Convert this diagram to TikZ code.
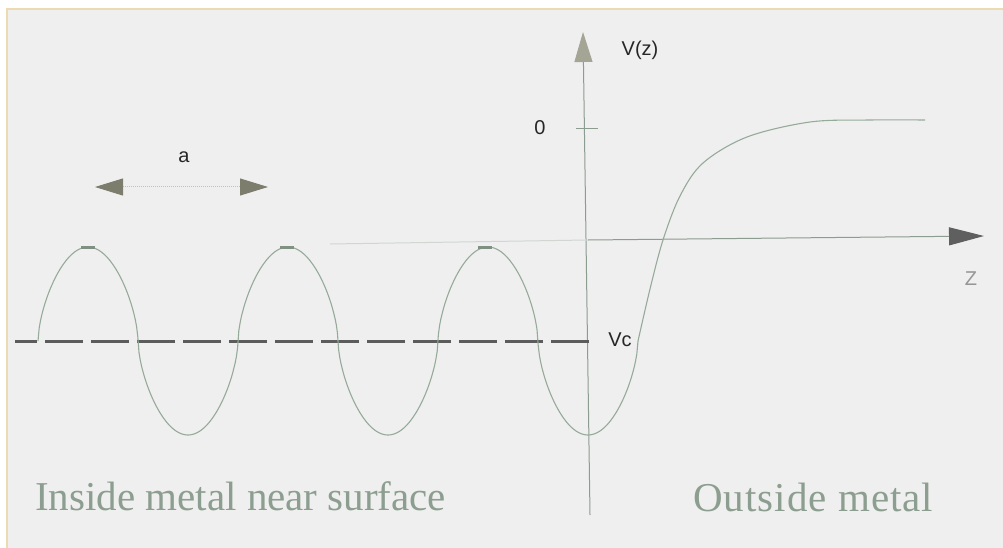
\documentclass[tikz,border=0pt]{standalone}
\usepackage{fontspec}
\setmainfont{Liberation Serif}
\setsansfont{Liberation Sans}
\newfontfamily\capwide[LetterSpace=2.5]{Liberation Serif}
\usetikzlibrary{arrows.meta,positioning}

\definecolor{bgGray}{RGB}{239,239,239}
\definecolor{frameTan}{RGB}{236,218,178}
\definecolor{curveCol}{RGB}{150,170,154}
\definecolor{axisCol}{RGB}{140,156,145}
\definecolor{dashCol}{RGB}{92,92,92}
\definecolor{textCol}{RGB}{140,158,143}
\definecolor{lblCol}{RGB}{38,38,38}
\definecolor{vHeadCol}{RGB}{165,165,150}
\definecolor{hHeadCol}{RGB}{95,95,95}
\definecolor{aHeadCol}{RGB}{125,125,110}

\begin{document}
\begin{tikzpicture}[x=1pt,y=-1pt,
    declare function={wv(\t)=341-94*cos(1.8*(\t-88))*(abs(cos(1.8*(\t-88)))+0.0005)^(-0.4);},
    curve/.style={draw=curveCol, line width=1.1pt},
    axisline/.style={draw=axisCol, line width=1pt},
    lbl/.style={text=lblCol, font=\sffamily\fontsize{20}{24}\selectfont, inner sep=0pt},
    caption/.style={text=textCol, font=\fontsize{41}{45}\selectfont, inner sep=0pt, anchor=base west},
    peakmark/.style={draw=curveCol!85!black, line width=3pt}]

    % 1. Background and frame
    \useasboundingbox (0,0) rectangle (1003,548);
    \fill[white] (0,0) rectangle (1003,548);
    \fill[bgGray] (7,9) rectangle (1003,548);
    \draw[frameTan, line width=1.5pt] (7,548) -- (7,9) -- (1003,9);

    % 2. Axes
    \coordinate (vBot) at (590,515);
    \coordinate (vTop) at (583,32);
    \coordinate (zO) at (588,240);
    \coordinate (hLeft) at (330,244);
    \coordinate (hRight) at (984,236);
    \draw[axisline, -{Triangle[length=30pt,width=18pt,color=vHeadCol]}] (vBot) -- (vTop);
    \draw[axisline, draw=axisCol!30!bgGray] (hLeft) -- (zO);
    \draw[axisline, -{Triangle[length=35pt,width=18pt,color=hHeadCol]}] (zO) -- (hRight);
    \coordinate (tickL) at (576,129);
    \coordinate (tickR) at (598,129);
    \draw[axisline] (tickL) -- (tickR);

    % 3. Axis labels
    \node[lbl] (vLbl) at (640,50) {V(z)};
    \node[lbl] (zeroLbl) at (540,128) {0};
    \node[lbl, text=lblCol!45!bgGray] (zLbl) at (971,279) {Z};
    \node[lbl] (vcLbl) at (620,340) {Vc};

    % 4. Dashed level Vc
    \coordinate (vcR) at (589,341);
    \coordinate (vcL) at (15,341);
    \draw[dashCol, line width=3pt, dash pattern=on 38pt off 8pt] (vcR) -- (vcL);

    % 5. Potential curve (periodic inside, rising outside)
    \draw[curve] plot[domain=38:638, samples=500] (\x,{wv(\x)})
        -- plot[smooth, tension=0.55] coordinates {(638,341) (650,289) (663,240)
            (680,196) (703,163) (747,137) (810,122) (870,120) (925,120)};

    % peak marks
    \foreach \px in {88,287,485} {
        \draw[peakmark] (\px-7,247) -- (\px+7,247);
    }

    % 6. Lattice spacing a
    \coordinate (aL) at (95,187);
    \coordinate (aR) at (268,187);
    \draw[draw=curveCol!60!bgGray, line width=1pt, densely dotted,
          {Triangle[length=28pt,width=17pt,color=aHeadCol]}-{Triangle[length=28pt,width=17pt,color=aHeadCol]}] (aL) -- (aR);
    \node[lbl] (aLbl) at (184,157) {a};

    % 7. Region captions
    \node[caption] (inside) at (35,510) {Inside metal near surface};
    \node[caption, font=\capwide\fontsize{41}{45}\selectfont] (outside) at (693,511) {Outside metal};

\end{tikzpicture}
\end{document}
